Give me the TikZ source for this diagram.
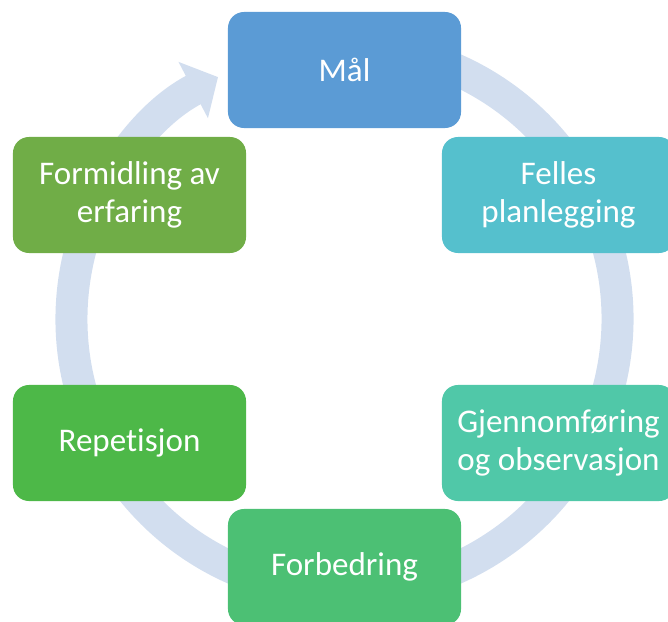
\documentclass[tikz,border=0pt]{standalone}
\usepackage{fontspec}
\setmainfont{Carlito}[Ligatures=NoCommon]
\usetikzlibrary{arrows.meta}
\definecolor{malblue}{RGB}{91,155,213}
\definecolor{fellescyan}{RGB}{85,192,205}
\definecolor{gjennteal}{RGB}{80,200,168}
\definecolor{forbgreen}{RGB}{76,192,116}
\definecolor{repgreen}{RGB}{77,184,72}
\definecolor{formgreen}{RGB}{112,173,71}
\definecolor{ringblue}{RGB}{210,222,239}

\begin{document}
\begin{tikzpicture}[
    x=0.025cm, y=0.025cm,
    stage/.style={rounded corners=0.4cm, minimum width=5.825cm, minimum height=2.9cm,
        inner sep=0pt, text=white, align=center, font=\fontsize{23.5}{27}\selectfont},
    ring/.style={draw=ringblue, line width=0.8cm}
]
\clip (0,0) rectangle (668,621);

% Circular arrow behind the stages
\coordinate (c) at (344.5,302);
\draw[ring, -{Triangle[length=0.7cm, width=1.55cm]}]
    (c) ++(80:273) arc[start angle=80, end angle=-242.4, radius=273];

% Stages, clockwise from the top
\node[stage, fill=malblue]    (mal)  at (344.5,551) {Mål};
\node[stage, fill=fellescyan] (fel)  at (558.5,426) {Felles\\planlegging};
\node[stage, fill=gjennteal]  (gjen) at (558.5,178) {Gjennomføring\\og observasjon};
\node[stage, fill=forbgreen]  (forb) at (344.5,54)  {Forbedring};
\node[stage, fill=repgreen]   (rep)  at (129.5,178) {Repetisjon};
\node[stage, fill=formgreen]  (form) at (129.5,426) {Formidling av\\erfaring};
\end{tikzpicture}
\end{document}
